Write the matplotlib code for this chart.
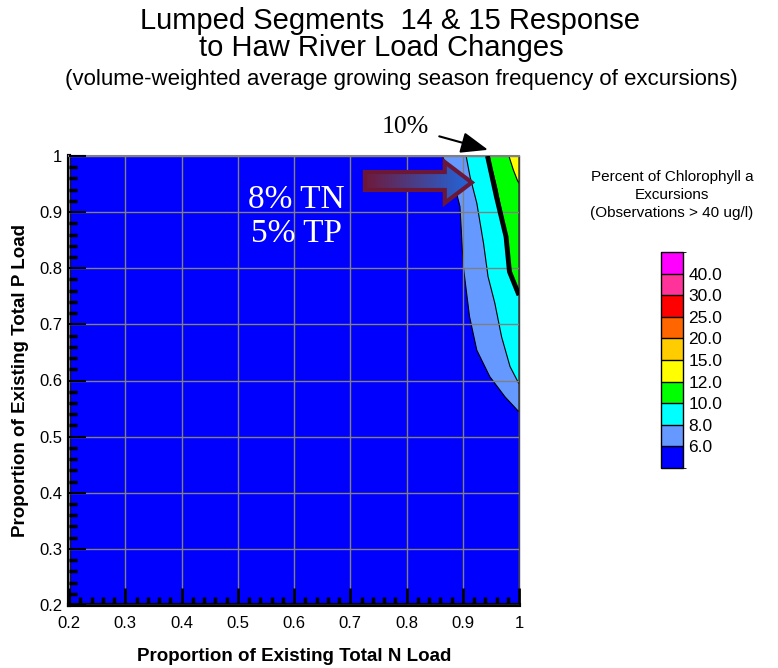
"""
Lumped Segments 14 & 15 response surface: chlorophyll a excursion frequency
vs. proportion of existing N and P loads.
"""

import matplotlib
matplotlib.use("Agg")
import matplotlib.pyplot as plt
import numpy as np
from matplotlib.colors import ListedColormap, BoundaryNorm
from matplotlib.cm import ScalarMappable
from matplotlib.patches import Polygon
from matplotlib.ticker import MultipleLocator

plt.rcParams["font.family"] = ["Liberation Sans", "DejaVu Sans"]

# contour levels (percent of excursions) and fill colours, low -> high
LEVELS = [4.0, 6.0, 8.0, 10.0, 12.0, 15.0, 20.0, 25.0, 30.0, 40.0, 50.0]
LEVEL_COLORS = ["#0000FF", "#6699FF", "#00FFFF", "#00FF00", "#FFFF00",
                "#FFCC00", "#FF6600", "#FF0000", "#FF3399", "#FF00FF"]

# contour boundaries (N proportion, P proportion)
C6_N = [0.864, 0.886, 0.895, 0.901, 0.912, 0.925, 0.948, 0.975, 1.0]
C6_P = [1.0, 0.945, 0.910, 0.803, 0.714, 0.654, 0.607, 0.571, 0.544]

C8_N = [0.906, 0.913, 0.925, 0.937, 0.945, 0.957, 0.969, 0.984, 1.0]
C8_P = [1.0, 0.963, 0.916, 0.844, 0.785, 0.738, 0.678, 0.625, 0.594]

C10_N = [0.946, 0.960, 0.972, 0.981, 0.987, 1.0]
C10_P = [1.0, 0.945, 0.886, 0.821, 0.785, 0.758]

C12_N = [0.982, 0.990, 0.997, 1.0]
C12_P = [1.0, 0.975, 0.957, 0.951]

# highlighted 10% line
LINE10_N = [0.944, 0.960, 0.977, 0.983, 1.0]
LINE10_P = [1.0, 0.927, 0.856, 0.794, 0.752]

fig = plt.figure(figsize=(7.78, 6.68), dpi=100)
ax = fig.add_axes([69 / 778, 1 - 605 / 668, 450 / 778, 449 / 668])

ax.set_facecolor(LEVEL_COLORS[0])
for xs, ys, col in [(C6_N, C6_P, LEVEL_COLORS[1]),
                    (C8_N, C8_P, LEVEL_COLORS[2]),
                    (C10_N, C10_P, LEVEL_COLORS[3]),
                    (C12_N, C12_P, LEVEL_COLORS[4])]:
    ax.fill(np.r_[xs, 1.0], np.r_[ys, 1.0], facecolor=col,
            edgecolor="black", lw=0.8, zorder=1)
ax.plot(LINE10_N, LINE10_P, color="black", lw=3.5, zorder=4,
        solid_capstyle="butt")

ax.set_xlim(0.2, 1.0)
ax.set_ylim(0.2, 1.0)
ax.xaxis.set_major_locator(MultipleLocator(0.1))
ax.yaxis.set_major_locator(MultipleLocator(0.1))
ax.xaxis.set_minor_locator(MultipleLocator(0.02))
ax.yaxis.set_minor_locator(MultipleLocator(0.02))
ax.set_xticklabels([f"{v:g}" for v in ax.get_xticks()])
ax.set_yticklabels([f"{v:g}" for v in ax.get_yticks()])
ax.grid(True, which="major", color="#808080", lw=1, zorder=3)
ax.set_axisbelow(False)

ax.tick_params(which="both", direction="in", top=False, right=False,
               labelsize=12, color="black")
ax.tick_params(axis="x", which="major", length=12, width=2, pad=8)
ax.tick_params(axis="y", which="major", length=12, width=1.5, pad=5)
ax.tick_params(which="minor", length=6, width=2.5)

for side in ["left", "bottom"]:
    ax.spines[side].set_linewidth(3)
    ax.spines[side].set_color("black")
ax.spines["top"].set_color("#808080")
ax.spines["top"].set_linewidth(1.5)
ax.spines["right"].set_color("#404040")
ax.spines["right"].set_linewidth(1)

ax.set_xlabel("Proportion of Existing Total N Load", fontsize=13.5,
              fontweight="bold", labelpad=12)
ax.set_ylabel("Proportion of Existing Total P Load", fontsize=13.5,
              fontweight="bold", labelpad=7)

# annotations
ax.text(0.605, 0.891, "8% TN\n5% TP", color="white", fontsize=24,
        family=["Liberation Serif", "DejaVu Serif"], ha="center",
        va="center", linespacing=1.15, zorder=6)
ax.annotate("10%", xy=(0.945, 1.011), xytext=(0.797, 1.052),
            fontsize=18.5, family=["Liberation Serif", "DejaVu Serif"],
            ha="center", va="center", annotation_clip=False,
            arrowprops=dict(arrowstyle="-|>,head_length=0.9,head_width=0.35",
                            color="black", lw=1.5, shrinkA=6, shrinkB=0))

# gradient block arrow
arrow_pts = [(0.726, 0.9715), (0.868, 0.9715), (0.868, 0.9893),
             (0.916, 0.9528), (0.868, 0.9163), (0.868, 0.9394),
             (0.726, 0.9394)]
arrow = Polygon(arrow_pts, closed=True, facecolor="none",
                edgecolor="#6B1838", lw=3, zorder=7, joinstyle="miter")
ax.add_patch(arrow)
grad = np.linspace(0, 1, 256).reshape(1, -1)
arrow_cmap = ListedColormap(np.array([
    np.linspace(0x6E, 0x20, 256) / 255,
    np.linspace(0x1A, 0x66, 256) / 255,
    np.linspace(0x3C, 0xDD, 256) / 255]).T)
img = ax.imshow(grad, cmap=arrow_cmap, aspect="auto",
                extent=(0.726, 0.916, 0.9163, 0.9893), zorder=6)
img.set_clip_path(arrow)
ax.set_xlim(0.2, 1.0)
ax.set_ylim(0.2, 1.0)

# colour key
cax = fig.add_axes([661 / 778, 1 - 468 / 668, 22 / 778, 216 / 668])
cmap = ListedColormap(LEVEL_COLORS)
norm = BoundaryNorm(LEVELS, cmap.N)
cb = fig.colorbar(ScalarMappable(norm=norm, cmap=cmap), cax=cax,
                  boundaries=LEVELS, ticks=LEVELS[1:-1], spacing="uniform",
                  drawedges=True)
cb.ax.set_yticklabels([f"{v:.1f}" for v in LEVELS[1:-1]], fontsize=12.5)
cb.ax.tick_params(length=0, pad=4)
cb.outline.set_linewidth(1)
cb.dividers.set_linewidth(1)

fig.text(672 / 778, 1 - 195 / 668,
         "Percent of Chlorophyll a\nExcursions\n(Observations > 40 ug/l)",
         ha="center", va="center", fontsize=11, linespacing=1.35)

# titles
fig.text(390 / 778, 1 - 21 / 668, "Lumped Segments  14 & 15 Response",
         ha="center", va="center", fontsize=21)
fig.text(381 / 778, 1 - 48 / 668, "to Haw River Load Changes",
         ha="center", va="center", fontsize=21)
fig.text(401 / 778, 1 - 80 / 668,
         "(volume-weighted average growing season frequency of excursions)",
         ha="center", va="center", fontsize=16)

fig.savefig("out.png", dpi=100)
